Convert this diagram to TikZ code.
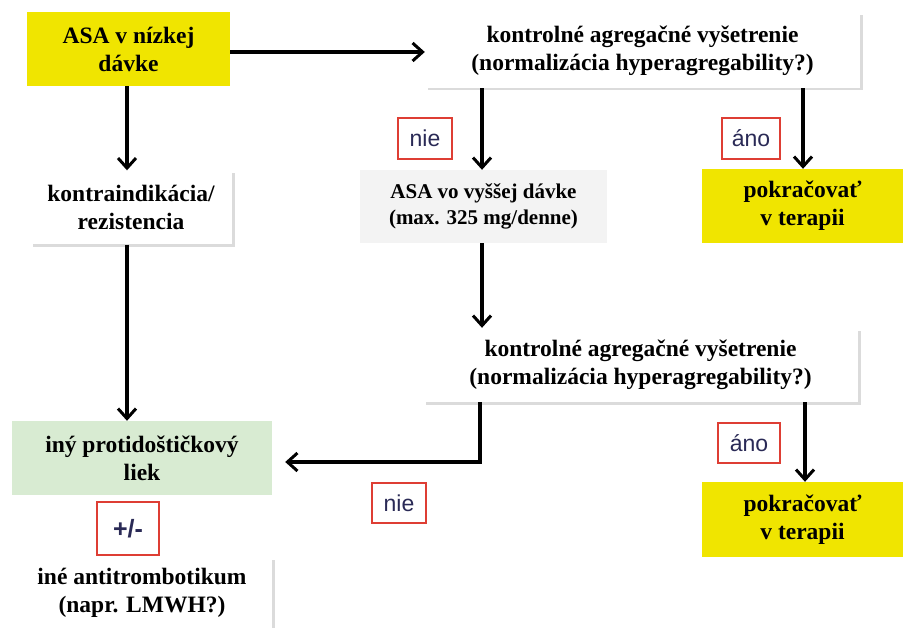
\documentclass[tikz,border=0pt]{standalone}
\usepackage{fontspec}
\setmainfont{Liberation Serif}
\newfontfamily\labelfont{Liberation Sans}
\usetikzlibrary{arrows.meta,shadows}
\definecolor{asayellow}{RGB}{240,229,0}
\definecolor{lekgreen}{RGB}{216,235,210}
\definecolor{dosegrey}{RGB}{243,243,243}
\definecolor{tagred}{RGB}{222,62,52}
\definecolor{tagnavy}{RGB}{42,42,86}
\begin{document}
\begin{tikzpicture}[x=1pt, y=-1pt,
    box/.style={rectangle, inner sep=0pt, align=center,
                font=\fontsize{23.5}{28}\selectfont\bfseries},
    yellowbox/.style={box, fill=asayellow},
    greenbox/.style={box, fill=lekgreen},
    greybox/.style={box, fill=dosegrey},
    whitebox/.style={box, fill=white,
                drop shadow={shadow xshift=2.5pt, shadow yshift=-2.5pt, fill=black!28}},
    tag/.style={rectangle, draw=tagred, line width=1.6pt, fill=white,
                text=tagnavy, inner sep=0pt, font=\labelfont\fontsize{23}{26}\selectfont},
    flow/.style={-{Straight Barb[length=10pt, width=18pt, line width=3pt]},
                line width=3.2pt}
]
\useasboundingbox (0,0) rectangle (904,628);

% boxes
\node (asa) [yellowbox, minimum width=203pt, minimum height=74pt] at (128.5, 49) {ASA v nízkej\\dávke};
\node (kontrola1) [whitebox, minimum width=435pt, minimum height=75pt] at (642.5, 50.5) {kontrolné agregačné vyšetrenie\\(normalizácia hyperagregability?)};
\node (kontra) [whitebox, minimum width=202pt, minimum height=74pt] at (131, 207.5) {kontraindikácia/\\rezistencia};
\node (vyssia) [greybox, minimum width=247pt, minimum height=73pt, font=\fontsize{21}{26}\selectfont\bfseries] at (483.5, 206.5) {ASA vo vyššej dávke\\(max. 325 mg/denne)};
\node (pokr1) [yellowbox, minimum width=201pt, minimum height=74pt] at (802.5, 206) {pokračovať\\v terapii};
\node (kontrola2) [whitebox, minimum width=435pt, minimum height=74pt] at (640.5, 365) {kontrolné agregačné vyšetrenie\\(normalizácia hyperagregability?)};
\node (iny) [greenbox, minimum width=260pt, minimum height=74pt] at (142, 458) {iný protidoštičkový\\liek};
\node (pokr2) [yellowbox, minimum width=201pt, minimum height=75pt] at (802.5, 519.5) {pokračovať\\v terapii};
\node (anti) [whitebox, minimum width=260pt, minimum height=72pt] at (142, 593) {iné antitrombotikum\\(napr. LMWH?)};

% labels
\node (nie1) [tag, minimum width=54pt, minimum height=41pt] at (425, 138.5) {nie};
\node (ano1) [tag, minimum width=58pt, minimum height=41pt] at (751, 138.5) {áno};
\node (nie2) [tag, minimum width=54pt, minimum height=40pt] at (399, 503) {nie};
\node (ano2) [tag, minimum width=62pt, minimum height=40pt] at (749, 443) {áno};
\node (pm) [tag, minimum width=62pt, minimum height=53pt, font=\labelfont\bfseries\fontsize{25}{26}\selectfont] at (128, 528.5) {+/-};

% arrows
\draw [flow] (asa.east |- 0,52) -- (kontrola1.west |- 0,52);
\draw [flow] (127,0 |- asa.south) -- (127,0 |- kontra.north);
\draw [flow] (127,0 |- kontra.south) -- (127,0 |- iny.north);
\draw [flow] (482,0 |- kontrola1.south) -- (482,0 |- vyssia.north);
\draw [flow] (803,0 |- kontrola1.south) -- (803,0 |- pokr1.north);
\draw [flow] (482,0 |- vyssia.south) -- (482,0 |- kontrola2.north);
\draw [flow, shorten >=13pt] (480,0 |- kontrola2.south) |- (iny.east |- 0,462);
\draw [flow] (805,0 |- kontrola2.south) -- (805,0 |- pokr2.north);
\end{tikzpicture}
\end{document}
